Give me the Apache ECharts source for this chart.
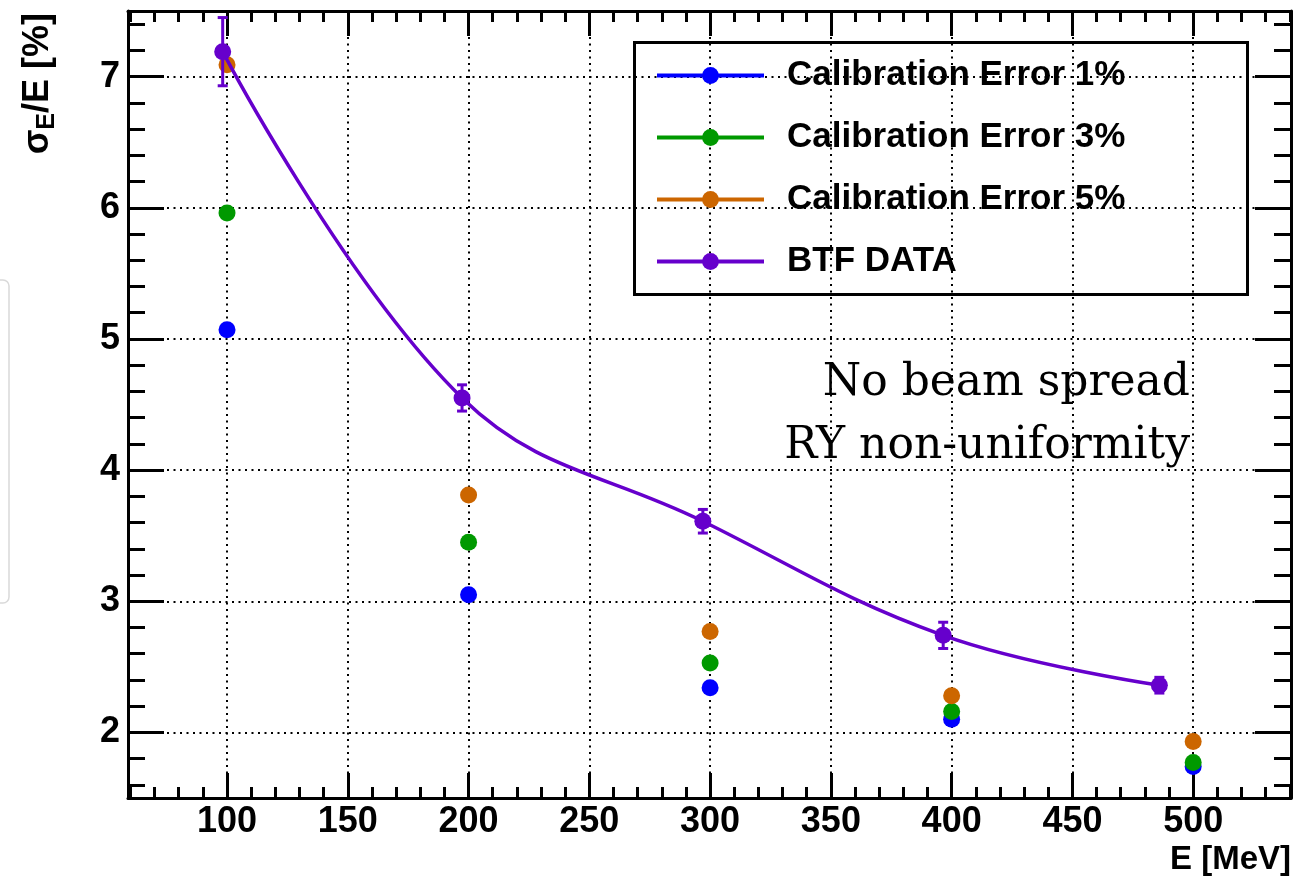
<!DOCTYPE html>
<html>
<head>
<meta charset="utf-8">
<script src="https://cdn.jsdelivr.net/npm/echarts@6/dist/echarts.min.js"></script>
<style>
html,body{margin:0;padding:0;background:#fff;}
#chart{width:1308px;height:878px;}
</style>
</head>
<body>
<div id="chart"></div>
<script>
// ---- data ----
const calibEnergy = [100, 200, 300, 400, 500];
const calib1 = [5.07, 3.05, 2.34, 2.10, 1.74];
const calib3 = [5.96, 3.45, 2.53, 2.16, 1.77];
const calib5 = [7.09, 3.81, 2.77, 2.28, 1.93];
const btfEnergy = [98.2, 197.3, 297, 396.5, 486];
const btfRes = [7.19, 4.55, 3.61, 2.74, 2.36];
const btfErr = [0.26, 0.10, 0.09, 0.10, 0.06];

// ---- tick values ----
const xMajorTicks = [100, 150, 200, 250, 300, 350, 400, 450, 500];
const xMinorTicks = [60, 70, 80, 90, 100, 110, 120, 130, 140, 150, 160, 170, 180, 190, 200, 210, 220, 230, 240, 250, 260, 270, 280, 290, 300, 310, 320, 330, 340, 350, 360, 370, 380, 390, 400, 410, 420, 430, 440, 450, 460, 470, 480, 490, 500, 510, 520, 530, 540];
const yMajorTicks = [2, 3, 4, 5, 6, 7];
const yMinorTicks = [1.6, 1.8, 2.0, 2.2, 2.4, 2.6, 2.8, 3.0, 3.2, 3.4, 3.6, 3.8, 4.0, 4.2, 4.4, 4.6, 4.8, 5.0, 5.2, 5.4, 5.6, 5.8, 6.0, 6.2, 6.4, 6.6, 6.8, 7.0, 7.2, 7.4];

const seriesNames = ['Calibration Error 1%', 'Calibration Error 3%', 'Calibration Error 5%', 'BTF DATA'];
const colors = ['#0000ff', '#009900', '#cc6600', '#6600cc'];

const X_MIN = 59, X_MAX = 540.5, Y_MIN = 1.5, Y_MAX = 7.5;
const FONT = "'Liberation Sans', Arial, Helvetica, sans-serif";
const black = '#000';

function pairs(xs, ys) { return xs.map((x, i) => [x, ys[i]]); }

const axisLineStyle = { show: true, lineStyle: { color: black, width: 3 } };
const dotted = { show: true, lineStyle: { color: black, width: 2, type: [2, 4.5] } };

function xAxisDef(position, major, withLabels) {
  return {
    type: 'value', min: X_MIN, max: X_MAX, position: position,
    axisLine: major ? axisLineStyle : { show: false },
    axisTick: { show: true, inside: true, length: major ? 25 : 11,
      customValues: major ? xMajorTicks : xMinorTicks,
      lineStyle: { color: black, width: 3 } },
    axisLabel: withLabels ? { show: true, customValues: xMajorTicks, fontSize: 36, fontWeight: 'bold',
      fontFamily: FONT, color: black, margin: 6 } : { show: false },
    splitLine: (withLabels ? dotted : { show: false }),
    minorTick: { show: false }
  };
}
function yAxisDef(position, major, withLabels) {
  return {
    type: 'value', min: Y_MIN, max: Y_MAX, position: position,
    axisLine: major ? axisLineStyle : { show: false },
    axisTick: { show: true, inside: true, length: major ? 36 : 17,
      customValues: major ? yMajorTicks : yMinorTicks,
      lineStyle: { color: black, width: 3 } },
    axisLabel: withLabels ? { show: true, customValues: yMajorTicks, fontSize: 36, fontWeight: 'bold',
      fontFamily: FONT, color: black, margin: 8 } : { show: false },
    splitLine: (withLabels ? dotted : { show: false })
  };
}

const xMain = xAxisDef('bottom', true, true);
xMain.name = 'E [MeV]';
xMain.nameLocation = 'end';
xMain.nameGap = 0;
xMain.nameMoveOverlap = false;
xMain.nameTextStyle = { fontSize: 33, fontWeight: 'bold', fontFamily: FONT, color: black,
  align: 'right', verticalAlign: 'top', padding: [45, 0, 0, 0] };

const yMain = yAxisDef('left', true, true);
yMain.name = '{a|σ}{b|E}{a|/E [%]}';
yMain.nameLocation = 'end';
yMain.nameGap = -2;
yMain.nameRotate = 90;
yMain.nameMoveOverlap = false;
yMain.nameTextStyle = {
  align: 'right', verticalAlign: 'bottom', padding: [0, 0, 68, 0],
  rich: {
    a: { fontSize: 36, fontWeight: 'bold', fontFamily: FONT, color: black },
    b: { fontSize: 25, fontWeight: 'bold', fontFamily: FONT, color: black, verticalAlign: 'top', padding: [19, 0, 0, 0] }
  }
};

const option = {
  animation: false,
  backgroundColor: '#fff',
  grid: { left: 128, top: 11, width: 1163, height: 787, containLabel: false, outerBoundsMode: 'none' },
  xAxis: [xMain, xAxisDef('bottom', false, false), xAxisDef('top', true, false), xAxisDef('top', false, false)],
  yAxis: [yMain, yAxisDef('left', false, false), yAxisDef('right', true, false), yAxisDef('right', false, false)],
  legend: {
    orient: 'vertical', left: 655, top: 58, padding: 0,
    itemWidth: 107, itemHeight: 21, itemGap: 27,
    textStyle: { fontSize: 35, fontWeight: 'bold', fontFamily: FONT, color: black, padding: [0, 0, 0, 18] },
    data: seriesNames.map((n, i) => ({ name: n, lineStyle: { width: 4, color: colors[i], opacity: 1 } })),
    selectedMode: false
  },
  graphic: [
    { type: 'rect', left: 632, top: 40, shape: { width: 613, height: 252 },
      style: { fill: 'none', stroke: black, lineWidth: 3 }, z: 5, silent: true },
    { type: 'rect', shape: { x: -20, y: 280, width: 29, height: 323, r: 6 },
      style: { fill: 'none', stroke: '#d9d9d9', lineWidth: 1.5 }, silent: true },
    { type: 'text', x: 1190, y: 384, style: { text: 'No beam spread', fontFamily: "'DejaVu Serif', serif",
      fontSize: 44, fill: black, align: 'right', verticalAlign: 'middle' }, z: 10 },
    { type: 'text', x: 1190, y: 447, style: { text: 'RY non-uniformity', fontFamily: "'DejaVu Serif', serif",
      fontSize: 44, fill: black, align: 'right', verticalAlign: 'middle' }, z: 10 }
  ],
  series: [
    { name: seriesNames[0], type: 'line', data: pairs(calibEnergy, calib1), symbol: 'circle', symbolSize: 17,
      itemStyle: { color: colors[0] }, lineStyle: { width: 0, color: colors[0] }, z: 3 },
    { name: seriesNames[1], type: 'line', data: pairs(calibEnergy, calib3), symbol: 'circle', symbolSize: 17,
      itemStyle: { color: colors[1] }, lineStyle: { width: 0, color: colors[1] }, z: 4 },
    { name: seriesNames[2], type: 'line', data: pairs(calibEnergy, calib5), symbol: 'circle', symbolSize: 17,
      itemStyle: { color: colors[2] }, lineStyle: { width: 0, color: colors[2] }, z: 5 },
    { name: 'BTF DATA errors', type: 'custom', z: 6,
      data: btfEnergy.map((x, i) => [x, btfRes[i] - btfErr[i], btfRes[i] + btfErr[i]]),
      encode: { x: 0, y: [1, 2] },
      renderItem: function (params, api) {
        const x = api.value(0);
        const lo = api.coord([x, api.value(1)]);
        const hi = api.coord([x, api.value(2)]);
        const w = 5;
        const st = { stroke: colors[3], lineWidth: 3 };
        return { type: 'group', children: [
          { type: 'line', shape: { x1: lo[0], y1: lo[1], x2: hi[0], y2: hi[1] }, style: st },
          { type: 'line', shape: { x1: lo[0] - w, y1: lo[1], x2: lo[0] + w, y2: lo[1] }, style: st },
          { type: 'line', shape: { x1: hi[0] - w, y1: hi[1], x2: hi[0] + w, y2: hi[1] }, style: st }
        ] };
      }
    },
    { name: seriesNames[3], type: 'line', data: pairs(btfEnergy, btfRes), smooth: 0.4, symbol: 'circle', symbolSize: 17,
      itemStyle: { color: colors[3] }, lineStyle: { width: 3.5, color: colors[3] }, z: 7 }
  ]
};

const chart = echarts.init(document.getElementById('chart'), null, { renderer: 'canvas' });
chart.setOption(option);
</script>
</body>
</html>
